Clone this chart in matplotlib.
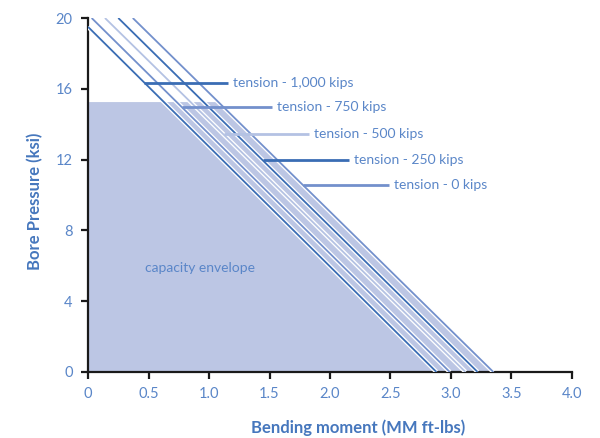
import matplotlib
matplotlib.use("Agg")
import matplotlib.pyplot as plt
import matplotlib.patheffects as pe

# Curves: (x, y) at top and at bottom of each line
tension_labels = ["tension - 1,000 kips", "tension - 750 kips", "tension - 500 kips",
                  "tension - 250 kips", "tension - 0 kips"]
top_x = [0.0, 0.03, 0.14, 0.25, 0.37]
top_y = [19.5, 20.0, 20.0, 20.0, 20.0]
bottom_x = [2.88, 2.99, 3.12, 3.22, 3.35]
line_colors = ["#3a6db4", "#7390cc", "#b4c2e3", "#3a6db4", "#7390cc"]

# leader lines: y level, start x, end x
leader_y = [16.33, 14.97, 13.45, 11.98, 10.56]
leader_x0 = [0.46, 0.78, 1.12, 1.45, 1.78]
leader_x1 = [1.16, 1.52, 1.83, 2.16, 2.49]

# capacity envelope
envelope_top = 15.25

x_ticks = [0, 0.5, 1.0, 1.5, 2.0, 2.5, 3.0, 3.5, 4.0]
x_tick_labels = ["0", "0.5", "1.0", "1.5", "2.0", "2.5", "3.0", "3.5", "4.0"]
y_ticks = [0, 4, 8, 12, 16, 20]

TEXT_COLOR = "#5a86c8"
LABEL_COLOR = "#4677bd"
FILL_COLOR = "#bcc6e4"

plt.rcParams["font.family"] = ["Lato", "DejaVu Sans"]

fig = plt.figure(figsize=(6, 4.38), dpi=100)
ax = fig.add_axes([0.1467, 0.1507, 0.8066, 0.8082])

# envelope polygon follows the outermost (0 kips) line
ox0, oy0, ox1 = top_x[-1], top_y[-1], bottom_x[-1]
x_at_top = ox0 + (oy0 - envelope_top) * (ox1 - ox0) / oy0
ax.fill([0, 0, x_at_top, ox1], [0, envelope_top, envelope_top, 0],
        color=FILL_COLOR, lw=0, zorder=1)

for i in range(len(tension_labels)):
    ax.plot([top_x[i], bottom_x[i]], [top_y[i], 0], color=line_colors[i], lw=1.3,
            zorder=3, solid_capstyle="butt",
            path_effects=[pe.Stroke(linewidth=3.2, foreground="white"), pe.Normal()])
    ax.plot([leader_x0[i], leader_x1[i]], [leader_y[i], leader_y[i]],
            color=line_colors[i], lw=2, zorder=4, solid_capstyle="butt")
    ax.text(leader_x1[i] + 0.04, leader_y[i], tension_labels[i], color=TEXT_COLOR,
            fontsize=10, va="center", ha="left", zorder=5)

ax.text(0.47, 5.9, "capacity envelope", color=TEXT_COLOR, fontsize=10,
        va="center", ha="left", zorder=5)

ax.set_xlim(0, 4.0)
ax.set_ylim(0, 20)
ax.set_xticks(x_ticks)
ax.set_xticklabels(x_tick_labels)
ax.set_yticks(y_ticks)

for s in ["top", "right"]:
    ax.spines[s].set_visible(False)
for s in ["left", "bottom"]:
    ax.spines[s].set_linewidth(1.6)
    ax.spines[s].set_color("#1a1a1a")
ax.tick_params(direction="out", length=5, width=1.6, color="#1a1a1a",
               labelcolor=TEXT_COLOR, labelsize=10.5, pad=6)

ax.set_xlabel("Bending moment (MM ft-lbs)", color=LABEL_COLOR, fontsize=12,
              fontweight="bold", va="center")
ax.xaxis.set_label_coords(0.558, -0.158)
ax.set_ylabel("Bore Pressure (ksi)", color=LABEL_COLOR, fontsize=12,
              fontweight="bold", va="center")
ax.yaxis.set_label_coords(-0.11, 0.483)

fig.savefig("out.png", dpi=100)
